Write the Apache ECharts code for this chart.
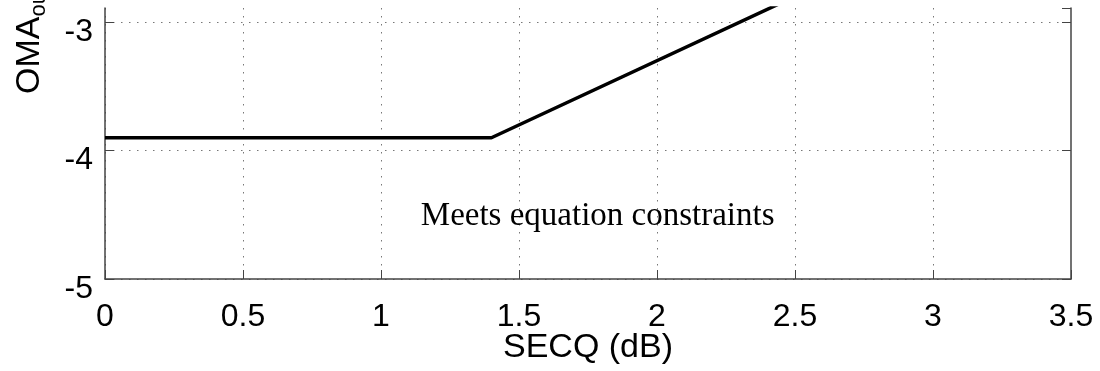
<!DOCTYPE html>
<html>
<head>
<meta charset="utf-8">
<script src="https://cdn.jsdelivr.net/npm/echarts@6/dist/echarts.min.js"></script>
<style>
  html, body { margin: 0; padding: 0; background: #fff; }
</style>
</head>
<body>
<div id="main" style="width: 1100px; height: 371px"></div>
<script>
  // data
  var secq = [0, 1.4, 2.6]
  var oma = [-3.9, -3.9, -2.7]
  var xTicks = [0, 0.5, 1, 1.5, 2, 2.5, 3, 3.5]
  var yTicks = [-5, -4, -3]
  var yTop = -2.89   // the picture is cropped just under the top of the box
  var noteText = 'Meets equation constraints'
  var notePos = [1.785, -4.51]

  var points = []
  for (var i = 0; i < secq.length; i++) {
    points.push([secq[i], oma[i]])
  }

  var axisColor = '#444'
  var gridLine = {
    show: true, showMaxLine: false,
    lineStyle: { color: '#777', width: 1, type: [1.5, 6.5] }
  }
  var font = '"Liberation Sans", Arial, sans-serif'

  var chart = echarts.init(document.getElementById('main'))
  var option = {
    animation: false,
    grid: {
      left: 105,
      right: 29,
      top: 8,
      bottom: 92,
      show: false,
      containLabel: false,
      outerBoundsMode: 'none'
    },
    xAxis: {
      type: 'value',
      min: xTicks[0],
      max: xTicks[xTicks.length - 1],
      interval: 0.5,
      name: 'SECQ (dB)',
      nameLocation: 'middle',
      nameGap: 52,
      nameMoveOverlap: false,
      nameTextStyle: { fontSize: 34, fontFamily: font, color: '#000' },
      axisLine: { show: true, onZero: false, lineStyle: { color: axisColor, width: 1.5 } },
      axisTick: { show: true, inside: true, length: 9, lineStyle: { color: axisColor } },
      axisLabel: { fontSize: 32, fontFamily: font, color: '#000', margin: 22 },
      splitLine: gridLine
    },
    yAxis: [{
      type: 'value',
      min: yTicks[0],
      max: yTop,
      interval: 1,
      axisLine: { show: true, onZero: false, lineStyle: { color: axisColor, width: 1.5 } },
      axisTick: { show: true, inside: true, length: 9, lineStyle: { color: axisColor } },
      axisLabel: {
        fontSize: 32, fontFamily: font, color: '#000', margin: 12,
        verticalAlign: 'top', lineHeight: 20, showMaxLabel: false
      },
      splitLine: gridLine
    }, {
      type: 'value',
      position: 'right',
      min: yTicks[0],
      max: yTop,
      interval: 1,
      axisLine: { show: true, onZero: false, lineStyle: { color: axisColor, width: 1.5 } },
      axisTick: { show: true, inside: true, length: 9, lineStyle: { color: axisColor } },
      axisLabel: { show: false },
      splitLine: { show: false }
    }],
    graphic: [{
      type: 'text',
      x: 30,
      y: 94,
      rotation: Math.PI / 2,
      style: {
        text: '{m|OMA}{s|outer}{m| (dBm)}',
        textAlign: 'left',
        textVerticalAlign: 'middle',
        fill: '#000',
        rich: {
          m: { fontSize: 34, fontFamily: font, fill: '#000' },
          s: { fontSize: 22, fontFamily: font, fill: '#000', padding: [18, 0, 0, 0] }
        }
      }
    }],
    series: [{
      type: 'line',
      data: points,
      symbol: 'none',
      lineStyle: { color: '#000', width: 3.5 },
      markPoint: {
        symbol: 'circle',
        symbolSize: 0,
        data: [{ coord: notePos }],
        label: {
          show: true,
          position: 'inside',
          formatter: noteText,
          fontSize: 33,
          fontFamily: '"Liberation Serif", "Times New Roman", serif',
          color: '#000'
        }
      }
    }]
  }
  chart.setOption(option)
</script>
</body>
</html>
